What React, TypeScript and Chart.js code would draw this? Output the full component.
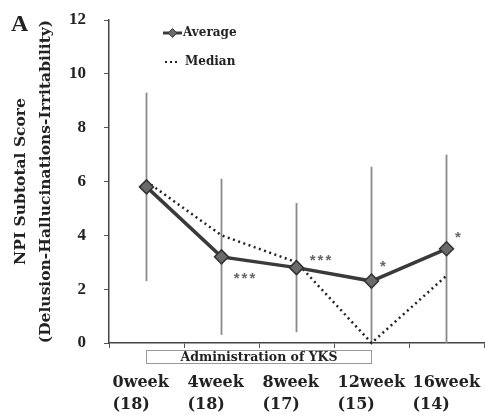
import { useEffect, useRef } from "react";
import { Chart, registerables } from "chart.js";

Chart.register(...registerables);

// Visit labels and number of subjects at each visit
const weeks = ["0week", "4week", "8week", "12week", "16week"];
const subjects = [18, 18, 17, 15, 14];

// NPI subtotal score (delusion + hallucinations + irritability)
const averageScore = [5.8, 3.2, 2.8, 2.3, 3.5];
const medianScore = [6.0, 4.0, 3.0, 0, 2.5];
const scoreSD = [3.5, 2.9, 2.4, 4.25, 3.5];
const significance = ["", "***", "***", "*", "*"];

// Axis settings
const yMin = 0;
const yMax = 12;
const yStep = 2;
const yTitle = ["NPI Subtotal Score", "(Delusion-Hallucinations-Irritability)"];

// Treatment period (first and last visit index)
const treatmentLabel = "Administration of YKS";
const treatmentSpan = [0, 3];
const panelLetter = "A";

const SERIF = "'Liberation Serif', 'Times New Roman', serif";
const WIDE_SERIF = "'DejaVu Serif', serif";

// where each significance mark sits relative to its point
const markOffsets = [
  [0, 0],
  [24, 18],
  [25, -11],
  [12.5, -18],
  [12.5, -14.5],
];

const errorBarPlugin = {
  id: "errorBars",
  beforeDatasetsDraw(chart: any) {
    const { ctx, scales } = chart;
    const x = scales.x;
    const y = scales.y;
    ctx.save();
    ctx.strokeStyle = "#8a8a8a";
    ctx.lineWidth = 1.8;
    averageScore.forEach((m, i) => {
      const px = x.getPixelForValue(i);
      const hi = y.getPixelForValue(Math.min(yMax, m + scoreSD[i]));
      const lo = y.getPixelForValue(Math.max(yMin, m - scoreSD[i]));
      ctx.beginPath();
      ctx.moveTo(px, hi);
      ctx.lineTo(px, lo);
      ctx.stroke();
    });
    ctx.restore();
  },
};

const decorationsPlugin = {
  id: "decorations",
  afterDatasetsDraw(chart: any) {
    const { ctx, scales, chartArea } = chart;
    const x = scales.x;
    const y = scales.y;
    ctx.save();

    // significance marks
    ctx.fillStyle = "#666";
    ctx.font = "bold 15px 'Liberation Sans', sans-serif";
    ctx.textAlign = "center";
    ctx.textBaseline = "middle";
    (ctx as any).letterSpacing = "2px";
    significance.forEach((s, i) => {
      if (!s) return;
      const px = x.getPixelForValue(i) + markOffsets[i][0];
      const py = y.getPixelForValue(averageScore[i]) + markOffsets[i][1] + 4;
      ctx.fillText(s, px, py);
    });
    (ctx as any).letterSpacing = "0px";

    // treatment period box under the axis
    const bx0 = x.getPixelForValue(treatmentSpan[0]);
    const bx1 = x.getPixelForValue(treatmentSpan[1]);
    const by0 = chartArea.bottom + 7.5;
    const by1 = chartArea.bottom + 20.5;
    ctx.strokeStyle = "#999";
    ctx.lineWidth = 1;
    ctx.strokeRect(bx0, by0, bx1 - bx0, by1 - by0);
    ctx.fillStyle = "#222";
    ctx.font = `bold 12.5px ${WIDE_SERIF}`;
    ctx.textAlign = "center";
    ctx.textBaseline = "middle";
    ctx.fillText(treatmentLabel, (bx0 + bx1) / 2, (by0 + by1) / 2 + 0.5);

    // legend
    const ds = chart.data.datasets;
    const lx = chartArea.left + 54;
    const ly1 = chartArea.top + 13;
    const ly2 = chartArea.top + 42;
    ctx.strokeStyle = ds[0].borderColor;
    ctx.lineWidth = 3;
    ctx.beginPath();
    ctx.moveTo(lx, ly1);
    ctx.lineTo(lx + 19, ly1);
    ctx.stroke();
    ctx.fillStyle = ds[0].pointBackgroundColor;
    ctx.lineWidth = 1;
    ctx.beginPath();
    const cx = lx + 9.5;
    const r = 4.5;
    ctx.moveTo(cx, ly1 - r);
    ctx.lineTo(cx + r, ly1);
    ctx.lineTo(cx, ly1 + r);
    ctx.lineTo(cx - r, ly1);
    ctx.closePath();
    ctx.fill();
    ctx.stroke();

    ctx.strokeStyle = ds[1].borderColor;
    ctx.lineWidth = 2;
    ctx.setLineDash([2, 3]);
    ctx.beginPath();
    ctx.moveTo(lx + 2, ly2);
    ctx.lineTo(lx + 17, ly2);
    ctx.stroke();
    ctx.setLineDash([]);

    ctx.fillStyle = "#222";
    ctx.font = `bold 12px ${WIDE_SERIF}`;
    ctx.textAlign = "left";
    ctx.textBaseline = "middle";
    ctx.fillText(ds[0].label, lx + 20, ly1);
    ctx.fillText(ds[1].label, lx + 22, ly2);

    // panel letter
    ctx.font = `bold 24px ${SERIF}`;
    ctx.fillStyle = "#222";
    ctx.fillText(panelLetter, 11, 25);

    ctx.restore();
  },
};

export default function App() {
  const canvasRef = useRef<HTMLCanvasElement | null>(null);

  useEffect(() => {
    const canvas = canvasRef.current;
    if (!canvas) return;
    const chart = new Chart(canvas, {
      type: "line",
      data: {
        labels: weeks.map((w, i) => [w, `(${subjects[i]})`]),
        datasets: [
          {
            label: "Average",
            data: averageScore,
            borderColor: "#3a3a3a",
            borderWidth: 3.5,
            pointStyle: "rectRot",
            pointRadius: 7,
            pointBackgroundColor: "#6a6a6a",
            pointBorderColor: "#333",
            pointBorderWidth: 1.5,
            tension: 0,
            clip: false,
          },
          {
            label: "Median",
            data: medianScore,
            borderColor: "#222",
            borderWidth: 2.5,
            borderDash: [2, 3.5],
            pointRadius: 0,
            tension: 0,
            clip: false,
          },
        ],
      } as any,
      options: {
        animation: false,
        responsive: false,
        devicePixelRatio: 1,
        layout: { autoPadding: false, padding: { top: 20, right: 1, left: 0, bottom: 0 } },
        plugins: {
          legend: { display: false },
          tooltip: { enabled: false },
        },
        scales: {
          x: {
            type: "category",
            offset: true,
            grid: {
              offset: true,
              drawOnChartArea: false,
              tickLength: 5,
              color: "#555",
            },
            border: { color: "#444", width: 1.5 },
            ticks: {
              autoSkip: false,
              maxRotation: 0,
              align: "start",
              labelOffset: -34,
              padding: 24,
              color: "#222",
              font: { family: WIDE_SERIF, weight: "bold", size: 16, lineHeight: 22 / 16 },
            },
            afterFit(scale: any) {
              scale.height = 72;
              scale.paddingLeft = 0;
              scale.paddingRight = 0;
            },
          },
          y: {
            min: yMin,
            max: yMax,
            grid: {
              drawOnChartArea: false,
              tickLength: 5,
              color: "#555",
            },
            border: { color: "#444", width: 1.5 },
            ticks: {
              stepSize: yStep,
              padding: 18,
              color: "#222",
              font: { family: SERIF, weight: "bold", size: 17 },
            },
            title: {
              display: true,
              text: yTitle,
              color: "#222",
              font: { family: WIDE_SERIF, weight: "bold", size: 15.5, lineHeight: 25 / 15.5 },
              padding: { top: 8, bottom: 0 },
            },
            afterFit(scale: any) {
              scale.width = 109;
              scale.paddingTop = 0;
              scale.paddingBottom = 0;
            },
          },
        },
      } as any,
      plugins: [errorBarPlugin, decorationsPlugin],
    });
    return () => chart.destroy();
  }, []);

  return (
    <div style={{ position: "absolute", left: 0, top: 0, width: 485, height: 415 }}>
      <canvas ref={canvasRef} width={485} height={415} style={{ display: "block" }} />
    </div>
  );
}
